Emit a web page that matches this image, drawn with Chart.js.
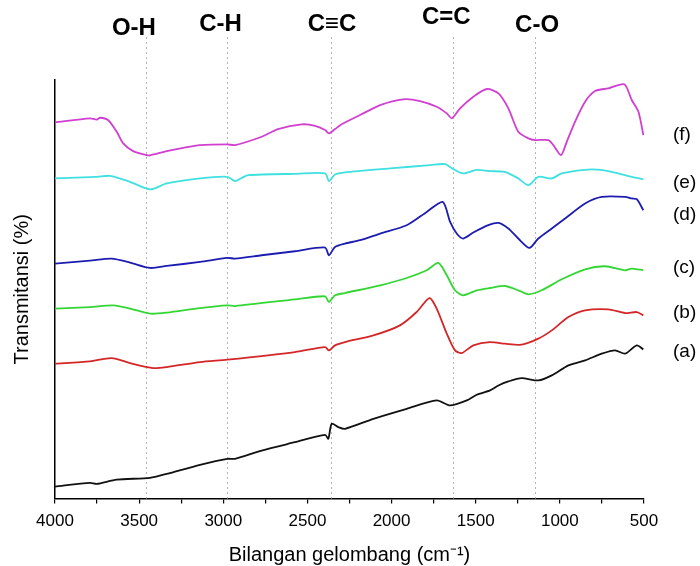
<!DOCTYPE html>
<html>
<head>
<meta charset="utf-8">
<script src="https://cdn.jsdelivr.net/npm/chart.js@4/dist/chart.umd.min.js"></script>
<style>
  html, body { margin: 0; padding: 0; background: #fff; }
  #wrap { position: relative; width: 700px; height: 566px; }
</style>
</head>
<body>
<div id="wrap"><canvas id="ftir"></canvas></div>
<script>
// FTIR spectra: wavenumber (cm-1) and transmittance (arbitrary units, stacked)
const waveA = [4000, 3792, 3752, 3633, 3435, 3336, 3138, 2976, 2930, 2772, 2574, 2395, 2376, 2356, 2316, 2277, 2108, 1910, 1732, 1652, 1553, 1494, 1415, 1365, 1306, 1227, 1128, 1048, 949, 850, 751, 672, 612, 543, 504];
const transA = [12, 15.7, 14.7, 19, 20.7, 24.7, 33.7, 39.7, 39.7, 48, 56.3, 63.7, 59.7, 74.7, 71.3, 69.7, 79.7, 89.7, 98, 93, 98, 103.7, 108, 113, 117, 120.3, 118, 123, 133, 138, 144.7, 148, 144.7, 153, 149];

const waveB = [4000, 3792, 3663, 3554, 3416, 3336, 3138, 2976, 2574, 2395, 2372, 2336, 2277, 2108, 1950, 1851, 1775, 1732, 1672, 1623, 1583, 1514, 1415, 1326, 1227, 1128, 1048, 949, 850, 712, 612, 543, 504];
const transB = [134.7, 137, 140.3, 135.3, 130.3, 131.3, 136.3, 138.7, 146.3, 151.3, 148, 153, 156.3, 163, 173, 186.3, 200.3, 189.7, 164.7, 148, 145.3, 153, 156.3, 154.7, 153.7, 159.7, 168, 181.3, 188, 189, 185.3, 186.3, 183];

const waveC = [4000, 3792, 3653, 3554, 3435, 3336, 3138, 2976, 2930, 2574, 2395, 2372, 2336, 2277, 2068, 1910, 1791, 1722, 1672, 1623, 1574, 1494, 1415, 1326, 1247, 1187, 1108, 989, 850, 731, 612, 573, 504];
const transC = [189.7, 191.3, 193, 189.7, 184.7, 185.7, 190.3, 193, 192.3, 199, 202, 196.3, 203, 205.3, 213, 220.3, 228, 235.3, 223, 208, 203, 208, 210.3, 212.3, 208, 204, 208, 219, 229, 232, 228, 229.7, 228];

const waveD = [4000, 3792, 3663, 3554, 3435, 3336, 3138, 2976, 2930, 2772, 2574, 2395, 2372, 2336, 2277, 2187, 2068, 1910, 1791, 1696, 1652, 1613, 1574, 1514, 1425, 1365, 1306, 1247, 1181, 1128, 1048, 969, 850, 751, 612, 573, 543, 504];
const transD = [234.7, 237.7, 239.7, 235.7, 230.3, 232.3, 236.3, 240.3, 239.7, 243, 247, 250.7, 243, 251.3, 254.7, 258, 264.7, 273, 286.3, 296.3, 276.3, 264.7, 259.7, 265.7, 273, 275.3, 269.7, 259.7, 250.3, 259.7, 269.7, 279.7, 294.7, 301.3, 301.3, 299.7, 299, 288];

const waveE = [4000, 3752, 3673, 3554, 3435, 3336, 3138, 2976, 2930, 2890, 2851, 2574, 2395, 2372, 2336, 2277, 2009, 1771, 1682, 1633, 1574, 1494, 1415, 1326, 1247, 1187, 1128, 1048, 989, 810, 692, 573, 504];
const transE = [319.7, 321.3, 322.3, 316.3, 308.7, 314.7, 319.7, 321.3, 317, 320.3, 323, 324.3, 324.7, 317, 323.7, 325.7, 329.7, 333, 334, 329, 324.7, 328.3, 327, 326.3, 319.7, 313, 321.3, 319.7, 324.7, 328.7, 326.3, 321.3, 319];

const waveF = [4000, 3792, 3752, 3733, 3685, 3633, 3596, 3536, 3455, 3435, 3336, 3238, 3138, 2976, 2930, 2772, 2675, 2534, 2455, 2395, 2372, 2336, 2294, 2187, 2068, 1930, 1831, 1732, 1672, 1642, 1593, 1514, 1434, 1365, 1306, 1247, 1187, 1147, 1068, 1039, 993, 959, 910, 850, 791, 712, 617, 573, 533, 504];
const transF = [375.7, 379.7, 378.5, 380.3, 378, 366.3, 355, 347, 343, 342.7, 347, 350.3, 353, 353.7, 353, 361.3, 369, 373.7, 372.3, 368, 364.7, 369, 374, 383, 393, 398.7, 397, 391.3, 384.7, 379.7, 389.7, 401.3, 409, 404.7, 389.7, 366.3, 359.7, 358, 358, 353, 343, 356.3, 376.3, 396.3, 407, 409.7, 413.7, 398, 386.3, 363];

const sampleLabels = ['(a)', '(b)', '(c)', '(d)', '(e)', '(f)'];
const bandNames = ['O-H', 'C-H', 'C≡C', 'C=C', 'C-O'];
const bandWaves = [3460, 2975, 2360, 1633, 1147];

const xTicks = [4000, 3500, 3000, 2500, 2000, 1500, 1000, 500];

const FONT = "'Liberation Sans', Arial, sans-serif";

function toPoints(xs, ys) {
  return xs.map((x, i) => ({ x: x, y: ys[i] }));
}

const series = [
  { wave: waveA, trans: transA, color: '#111111' },
  { wave: waveB, trans: transB, color: '#d42626' },
  { wave: waveC, trans: transC, color: '#33d633' },
  { wave: waveD, trans: transD, color: '#1c1cb0' },
  { wave: waveE, trans: transE, color: '#3fe0e0' },
  { wave: waveF, trans: transF, color: '#d03fd0' }
];

// dotted band markers behind the spectra + their names on top
const bandLines = {
  id: 'bandLines',
  beforeDatasetsDraw(chart) {
    const { ctx, chartArea, scales } = chart;
    ctx.save();
    ctx.strokeStyle = '#b4b4b4';
    ctx.lineWidth = 1;
    ctx.setLineDash([2, 3]);
    bandWaves.forEach(w => {
      const x = Math.round(scales.x.getPixelForValue(w)) + 0.5;
      ctx.beginPath();
      ctx.moveTo(x, 37);
      ctx.lineTo(x, chartArea.bottom);
      ctx.stroke();
    });
    ctx.restore();
  },
  afterDraw(chart) {
    const { ctx, scales, chartArea } = chart;
    // label nudges relative to each dotted line
    const dx = [-12, -7, 1, -7, 2];
    const ys = [28, 24, 24, 17.5, 25.5];
    ctx.save();
    ctx.fillStyle = '#000';
    ctx.font = 'bold 24px ' + FONT;
    ctx.textAlign = 'center';
    ctx.textBaseline = 'middle';
    bandNames.forEach((name, i) => {
      ctx.fillText(name, scales.x.getPixelForValue(bandWaves[i]) + dx[i], ys[i]);
    });

    // sample labels next to the right end of each curve
    const nudge = [2, -3, -3, 5, 4, 0];
    ctx.font = '19px ' + FONT;
    ctx.textAlign = 'left';
    series.forEach((s, i) => {
      const last = s.trans[s.trans.length - 1];
      ctx.fillText(sampleLabels[i], chartArea.right + 29, scales.y.getPixelForValue(last) + nudge[i]);
    });
    ctx.restore();
  }
};

new Chart(document.getElementById('ftir'), {
  type: 'line',
  data: {
    datasets: series.map((s, i) => ({
      label: sampleLabels[i],
      data: toPoints(s.wave, s.trans),
      borderColor: s.color,
      borderWidth: 1.8,
      pointRadius: 0,
      tension: 0.25,
      fill: false
    }))
  },
  options: {
    responsive: true,
    maintainAspectRatio: false,
    animation: false,
    events: [],
    layout: { padding: { left: 10, right: 56, top: 80, bottom: 0 } },
    plugins: {
      legend: { display: false },
      tooltip: { enabled: false }
    },
    scales: {
      x: {
        type: 'linear',
        reverse: true,
        min: 500,
        max: 4000,
        border: { display: true, color: '#000', width: 1.5 },
        grid: { display: true, drawOnChartArea: false, drawTicks: true, tickLength: 5, color: '#000', lineWidth: 1.2 },
        ticks: {
          stepSize: 250,
          autoSkip: false,
          maxRotation: 0,
          padding: 7.5,
          color: '#000',
          font: { family: FONT, size: 17 },
          callback: v => (xTicks.includes(v) ? String(v) : '')
        },
        title: {
          display: true,
          text: 'Bilangan gelombang (cm⁻¹)',
          color: '#000',
          font: { family: FONT, size: 20 },
          padding: { top: 4, bottom: -1 }
        }
      },
      y: {
        min: 0,
        max: 418,
        border: { display: true, color: '#000', width: 1.5 },
        grid: { display: false, drawTicks: false },
        ticks: { display: false },
        title: {
          display: true,
          text: 'Transmitansi (%)',
          color: '#000',
          font: { family: FONT, size: 20 },
          padding: { top: 0, bottom: 21 }
        }
      }
    }
  },
  plugins: [bandLines]
});
</script>
</body>
</html>
